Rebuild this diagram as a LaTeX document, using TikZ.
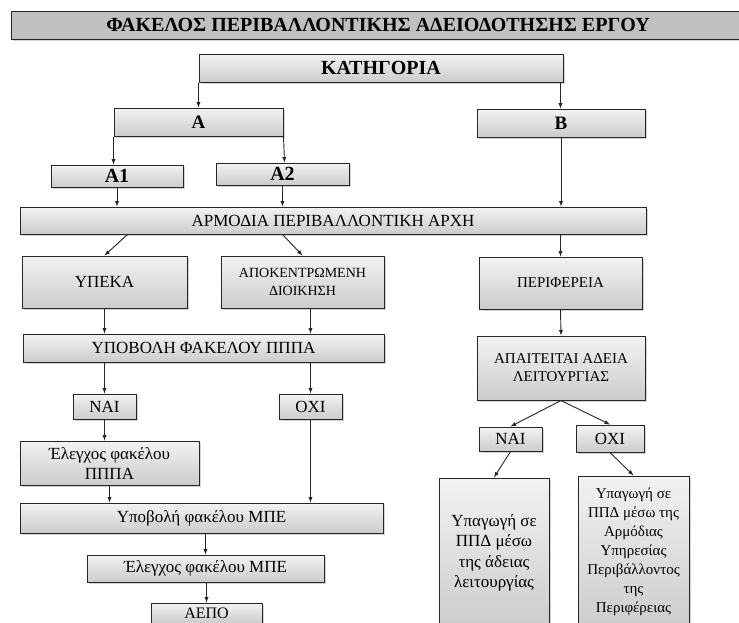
\documentclass[tikz,border=0pt]{standalone}
\usepackage{fontspec}
\setmainfont{Liberation Serif}
\usetikzlibrary{shadows,arrows}
\definecolor{titlegray}{HTML}{C0C0C0}

\begin{document}
\begin{tikzpicture}[x=1pt, y=-1pt, >=latex]
\tikzstyle{every node} = [draw=black!85, line width=1pt, top color=gray!10, bottom color=gray!40, drop shadow={shadow xshift=1.5pt, shadow yshift=-1.5pt, opacity=.35}, align=center, inner sep=1pt, font=\fontsize{17}{20}\selectfont]
\tikzstyle{bold} = [font=\fontsize{19}{22}\selectfont\bfseries]
\tikzstyle{smaller} = [font=\fontsize{15}{18}\selectfont]
\useasboundingbox (0,0) rectangle (739,622);
\clip (0,0) rectangle (739,622);
% header and categories
\node[bold, top color=titlegray, bottom color=titlegray, font=\fontsize{20}{22}\selectfont\bfseries, minimum width=734pt, minimum height=28pt] (title) at (378,25) {ΦΑΚΕΛΟΣ ΠΕΡΙΒΑΛΛΟΝΤΙΚΗΣ ΑΔΕΙΟΔΟΤΗΣΗΣ ΕΡΓΟΥ};
\node[bold, font=\fontsize{20}{22}\selectfont\bfseries, minimum width=364pt, minimum height=28pt] (kat) at (381,68) {ΚΑΤΗΓΟΡΙΑ};
\node[bold, minimum width=169pt, minimum height=28pt] (a) at (198.5,122) {Α};
\node[bold, minimum width=168pt, minimum height=28pt] (b) at (561,123) {Β};
\node[bold, font=\fontsize{20}{22}\selectfont\bfseries, minimum width=132pt, minimum height=22pt] (a1) at (117,176) {Α1};
\node[bold, font=\fontsize{20}{22}\selectfont\bfseries, minimum width=133pt, minimum height=22pt] (a2) at (282.5,174) {Α2};
\node[minimum width=626pt, minimum height=27pt] (arm) at (333,220.5) {ΑΡΜΟΔΙΑ ΠΕΡΙΒΑΛΛΟΝΤΙΚΗ ΑΡΧΗ};
% left branch
\node[minimum width=165pt, minimum height=52pt] (ypeka) at (104.5,282) {ΥΠΕΚΑ};
\node[font=\fontsize{14}{18}\selectfont, minimum width=163pt, minimum height=52pt] (apok) at (302.5,282) {ΑΠΟΚΕΝΤΡΩΜΕΝΗ\\ΔΙΟΙΚΗΣΗ};
\node[minimum width=361pt, minimum height=28pt] (ypov) at (203.5,348) {ΥΠΟΒΟΛΗ ΦΑΚΕΛΟΥ ΠΠΠΑ};
\node[minimum width=63pt, minimum height=25pt] (nai1) at (104.5,406.5) {ΝΑΙ};
\node[minimum width=63pt, minimum height=25pt] (oxi1) at (310.5,406.5) {ΟΧΙ};
\node[minimum width=179pt, minimum height=44pt] (elppa) at (109.5,463) {Έλεγχος φακέλου\\ΠΠΠΑ};
\node[minimum width=363pt, minimum height=30pt] (ypmpe) at (201.5,518) {Υποβολή φακέλου ΜΠΕ};
\node[minimum width=237pt, minimum height=27pt] (elmpe) at (205.5,568.5) {Έλεγχος φακέλου ΜΠΕ};
\node[font=\fontsize{16}{18}\selectfont, minimum width=111pt, minimum height=20pt] (aepo) at (206.5,613) {ΑΕΠΟ};
% right branch
\node[smaller, minimum width=163pt, minimum height=52pt] (per) at (560.5,283) {ΠΕΡΙΦΕΡΕΙΑ};
\node[smaller, minimum width=168pt, minimum height=64pt] (apait) at (561,368) {ΑΠΑΙΤΕΙΤΑΙ ΑΔΕΙΑ\\ΛΕΙΤΟΥΡΓΙΑΣ};
\node[minimum width=63pt, minimum height=24pt] (nai2) at (510.5,439) {ΝΑΙ};
\node[minimum width=68pt, minimum height=27pt] (oxi2) at (610,438.5) {ΟΧΙ};
\node[font=\fontsize{17}{20.5}\selectfont, minimum width=110pt, minimum height=150pt] (ypl) at (494,553) {Υπαγωγή σε\\ΠΠΔ μέσω\\της άδειας\\λειτουργίας};
\node[font=\fontsize{15}{19}\selectfont, minimum width=111pt, minimum height=152pt] (ypr) at (633.5,552) {Υπαγωγή σε\\ΠΠΔ μέσω της\\Αρμόδιας\\Υπηρεσίας\\Περιβάλλοντος\\της\\Περιφέρειας};
% connectors
\tikzstyle{link} = [->, draw=black!85, line width=.9pt]
\draw[link] (kat.south west) -- (kat.south west |- a.north);
\draw[link] ([xshift=-3pt]kat.south east) -- ([xshift=-3pt]kat.south east |- b.north);
\draw[link] (a.south west) -- (a.south west |- a1.north);
\draw[link] (a.south east) -- ([xshift=1pt]a.south east |- a2.north);
\foreach \from/\to in {a1/arm, a2/arm, b/arm, ypeka/ypov, nai1/elppa, elppa/ypmpe, oxi1/ypmpe}
\draw[link] (\from.south) -- (\from.south |- \to.north);
\draw[link] ([xshift=108pt]arm.south west) -- (ypeka.north);
\draw[link] ([xshift=263pt]arm.south west) -- (apok.north);
\draw[link] (arm.south -| per.north) -- (per.north);
\draw[link] (apok.south -| oxi1.north) -- (oxi1.north |- ypov.north);
\draw[link] (ypov.south -| nai1.north) -- (nai1.north);
\draw[link] (ypov.south -| oxi1.north) -- (oxi1.north);
\draw[link] (ypmpe.south -| elmpe.north) -- (elmpe.north);
\draw[link] (elmpe.south -| aepo.north) -- (aepo.north);
\foreach \from/\to in {per/apait, apait/nai2, apait/oxi2, nai2/ypl, oxi2/ypr}
\draw[link] (\from.south) -- (\to.north);
\end{tikzpicture}
\end{document}
